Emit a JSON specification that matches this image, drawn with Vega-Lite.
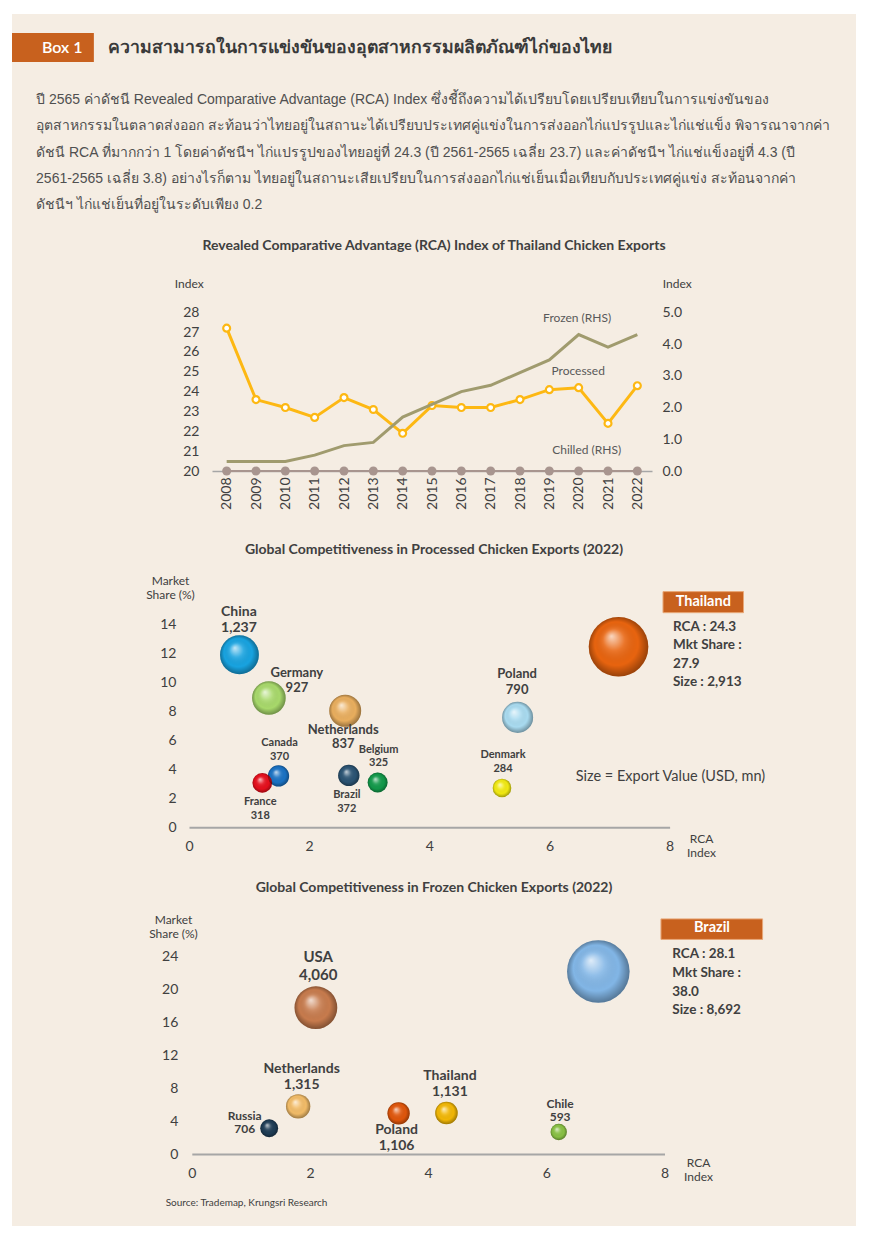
{
  "$schema": "https://vega.github.io/schema/vega-lite/v6.json",
  "background": "#ffffff",
  "padding": {"left": 12, "top": 14, "right": 14, "bottom": 19},
  "spacing": 0,
  "bounds": "flush",
  "resolve": {"scale": {"color": "independent", "size": "independent"}},
  "config": {
    "font": "Lato",
    "view": {"stroke": null, "fill": "#f5ede3"},
    "axis": {"grid": false, "labelFont": "Lato", "titleFont": "Lato"},
    "title": {"font": "Lato", "fontSize": 14, "fontWeight": "bold", "color": "#404040", "anchor": "middle", "frame": "group"}
  },
  "datasets": {
    "header": [
      {"row": -1, "kind": "badge", "text": "Box 1"},
      {"row": -1, "kind": "heading", "text": "ความสามารถในการแข่งขันของอุตสาหกรรมผลิตภัณฑ์ไก่ของไทย"},
      {"row": 1, "kind": "para", "text": "ปี 2565 ค่าดัชนี Revealed Comparative Advantage (RCA) Index ซึ่งชี้ถึงความได้เปรียบโดยเปรียบเทียบในการแข่งขันของ"},
      {"row": 2, "kind": "para", "text": "อุตสาหกรรมในตลาดส่งออก สะท้อนว่าไทยอยู่ในสถานะได้เปรียบประเทศคู่แข่งในการส่งออกไก่แปรรูปและไก่แช่แข็ง พิจารณาจากค่า"},
      {"row": 3, "kind": "para", "text": "ดัชนี RCA ที่มากกว่า 1 โดยค่าดัชนีฯ ไก่แปรรูปของไทยอยู่ที่ 24.3 (ปี 2561-2565 เฉลี่ย 23.7) และค่าดัชนีฯ ไก่แช่แข็งอยู่ที่ 4.3 (ปี"},
      {"row": 4, "kind": "para", "text": "2561-2565 เฉลี่ย 3.8) อย่างไรก็ตาม ไทยอยู่ในสถานะเสียเปรียบในการส่งออกไก่แช่เย็นเมื่อเทียบกับประเทศคู่แข่ง สะท้อนจากค่า"},
      {"row": 5, "kind": "para", "text": "ดัชนีฯ ไก่แช่เย็นที่อยู่ในระดับเพียง 0.2"}
    ],
    "rca": [
      {"year": 2008, "processed": 27.2, "frozen": 0.3, "chilled": 0.0},
      {"year": 2009, "processed": 23.6, "frozen": 0.3, "chilled": 0.0},
      {"year": 2010, "processed": 23.2, "frozen": 0.3, "chilled": 0.0},
      {"year": 2011, "processed": 22.7, "frozen": 0.5, "chilled": 0.0},
      {"year": 2012, "processed": 23.7, "frozen": 0.8, "chilled": 0.0},
      {"year": 2013, "processed": 23.1, "frozen": 0.9, "chilled": 0.0},
      {"year": 2014, "processed": 21.9, "frozen": 1.7, "chilled": 0.0},
      {"year": 2015, "processed": 23.3, "frozen": 2.1, "chilled": 0.0},
      {"year": 2016, "processed": 23.2, "frozen": 2.5, "chilled": 0.0},
      {"year": 2017, "processed": 23.2, "frozen": 2.7, "chilled": 0.0},
      {"year": 2018, "processed": 23.6, "frozen": 3.1, "chilled": 0.0},
      {"year": 2019, "processed": 24.1, "frozen": 3.5, "chilled": 0.0},
      {"year": 2020, "processed": 24.2, "frozen": 4.3, "chilled": 0.0},
      {"year": 2021, "processed": 22.4, "frozen": 3.9, "chilled": 0.0},
      {"year": 2022, "processed": 24.3, "frozen": 4.3, "chilled": 0.0}
    ],
    "proc": [
      {"country": "China", "rca": 0.84, "share": 11.88, "value": 1237},
      {"country": "Germany", "rca": 1.33, "share": 8.9, "value": 927},
      {"country": "Netherlands", "rca": 2.6, "share": 8.02, "value": 837},
      {"country": "Canada", "rca": 1.49, "share": 3.54, "value": 370},
      {"country": "France", "rca": 1.22, "share": 3.06, "value": 318},
      {"country": "Brazil", "rca": 2.66, "share": 3.57, "value": 372},
      {"country": "Belgium", "rca": 3.14, "share": 3.08, "value": 325},
      {"country": "Denmark", "rca": 5.21, "share": 2.71, "value": 284},
      {"country": "Poland", "rca": 5.47, "share": 7.57, "value": 790},
      {"country": "Thailand", "rca": 7.15, "share": 12.43, "value": 2913}
    ],
    "froz": [
      {"country": "USA", "rca": 2.1, "share": 17.8, "value": 4060},
      {"country": "Brazil", "rca": 6.88, "share": 22.2, "value": 8692},
      {"country": "Netherlands", "rca": 1.8, "share": 5.8, "value": 1315},
      {"country": "Russia", "rca": 1.31, "share": 3.13, "value": 706},
      {"country": "Poland", "rca": 3.5, "share": 4.95, "value": 1106},
      {"country": "Thailand", "rca": 4.31, "share": 4.99, "value": 1131},
      {"country": "Chile", "rca": 6.21, "share": 2.68, "value": 593}
    ],
    "procInset": [{"header": "Thailand", "lines": ["RCA : 24.3", "Mkt Share :", "27.9", "Size : 2,913"], "note": "Size = Export Value (USD, mn)"}],
    "frozInset": [{"header": "Brazil", "lines": ["RCA : 28.1", "Mkt Share :", "38.0", "Size : 8,692"], "note": "Source: Trademap, Krungsri Research"}]
  },
  "vconcat": [
    {
      "width": 844,
      "height": 248,
      "data": {"name": "header"},
      "layer": [
        {
          "transform": [{"filter": {"field": "kind", "equal": "badge"}}],
          "mark": {"type": "rect", "color": "#c8611e"},
          "encoding": {
            "x": {"datum": 0, "type": "quantitative", "scale": {"domain": [0, 100], "range": [0, 844], "nice": false, "zero": false}, "axis": null},
            "x2": {"datum": 9.7},
            "y": {"datum": -1.55, "type": "quantitative", "scale": {"domain": [-1, 5], "range": [33.5, 191], "nice": false, "zero": false}, "axis": null},
            "y2": {"datum": -0.45}
          }
        },
        {
          "transform": [{"filter": {"field": "kind", "equal": "badge"}}],
          "mark": {"type": "text", "color": "#ffffff", "fontSize": 16, "fontWeight": 600, "align": "center", "baseline": "middle"},
          "encoding": {
            "x": {"datum": 5.95, "type": "quantitative", "scale": {"domain": [0, 100], "range": [0, 844], "nice": false, "zero": false}, "axis": null},
            "y": {"field": "row", "type": "quantitative", "scale": {"domain": [-1, 5], "range": [33.5, 191], "nice": false, "zero": false}, "axis": null},
            "text": {"field": "text"}
          }
        },
        {
          "transform": [{"filter": {"field": "kind", "equal": "heading"}}],
          "mark": {"type": "text", "color": "#3a3a3a", "fontSize": 17.7, "fontWeight": "bold", "align": "left", "baseline": "middle"},
          "encoding": {
            "x": {"datum": 11.4, "type": "quantitative", "scale": {"domain": [0, 100], "range": [0, 844], "nice": false, "zero": false}, "axis": null},
            "y": {"field": "row", "type": "quantitative", "scale": {"domain": [-1, 5], "range": [33.5, 191], "nice": false, "zero": false}, "axis": null},
            "text": {"field": "text"}
          }
        },
        {
          "transform": [{"filter": {"field": "kind", "equal": "para"}}],
          "mark": {"type": "text", "color": "#505050", "font": "Liberation Sans", "fontSize": 14, "align": "left", "baseline": "middle"},
          "encoding": {
            "x": {"datum": 2.85, "type": "quantitative", "scale": {"domain": [0, 100], "range": [0, 844], "nice": false, "zero": false}, "axis": null},
            "y": {"field": "row", "type": "quantitative", "scale": {"domain": [-1, 5], "range": [33.5, 191], "nice": false, "zero": false}, "axis": null},
            "text": {"field": "text"}
          }
        }
      ]
    },
    {
      "width": 844,
      "height": 303,
      "title": {"text": "Revealed Comparative Advantage (RCA) Index of Thailand Chicken Exports", "offset": 9},
      "data": {"name": "rca"},
      "encoding": {
        "x": {
          "field": "year", "type": "ordinal",
          "scale": {"type": "point", "range": [200, 640], "padding": 0.5},
          "axis": {"orient": "bottom", "offset": -94, "labelAngle": -90, "labelPadding": 6, "ticks": false, "domainColor": "#a6a6a6", "domainWidth": 1.5, "labelFontSize": 14, "labelColor": "#404040", "title": null}
        }
      },
      "resolve": {"scale": {"y": "independent"}},
      "layer": [
        {
          "layer": [
            {
              "mark": {"type": "line", "color": "#fdb813", "strokeWidth": 3},
              "encoding": {
                "y": {"field": "processed", "type": "quantitative",
                  "scale": {"domain": [20, 28], "range": [209, 50.3], "nice": false, "zero": false},
                  "axis": {"orient": "left", "offset": -200, "values": [20, 21, 22, 23, 24, 25, 26, 27, 28], "tickCount": 9, "domain": false, "ticks": false, "labelPadding": 13, "labelOverlap": false, "labelFontSize": 14, "labelColor": "#404040", "title": "Index", "titleAngle": 0, "titleX": -23.2, "titleY": 21.3, "titleAlign": "center", "titleBaseline": "middle", "titleFontSize": 12, "titleFontWeight": "normal", "titleColor": "#404040"}}
              }
            },
            {
              "mark": {"type": "point", "filled": true, "fill": "#ffffff", "stroke": "#fdb813", "strokeWidth": 2.2, "size": 48, "opacity": 1},
              "encoding": {
                "y": {"field": "processed", "type": "quantitative",
                  "scale": {"domain": [20, 28], "range": [209, 50.3], "nice": false, "zero": false},
                  "axis": {"orient": "left", "offset": -200, "values": [20, 21, 22, 23, 24, 25, 26, 27, 28], "tickCount": 9, "domain": false, "ticks": false, "labelPadding": 13, "labelOverlap": false, "labelFontSize": 14, "labelColor": "#404040", "title": "Index", "titleAngle": 0, "titleX": -23.2, "titleY": 21.3, "titleAlign": "center", "titleBaseline": "middle", "titleFontSize": 12, "titleFontWeight": "normal", "titleColor": "#404040"}}
              }
            },
            {
              "data": {"values": [{"label": "Processed"}]},
              "mark": {"type": "text", "fontSize": 12, "color": "#595959", "align": "center", "baseline": "middle", "dx": -0.5},
              "encoding": {
                "x": {"datum": 2020, "type": "ordinal", "scale": {"type": "point", "range": [200, 640], "padding": 0.5},
                  "axis": {"orient": "bottom", "offset": -94, "labelAngle": -90, "labelPadding": 6, "ticks": false, "domainColor": "#a6a6a6", "domainWidth": 1.5, "labelFontSize": 14, "labelColor": "#404040", "title": null}},
                "y": {"datum": 25.06, "type": "quantitative",
                  "scale": {"domain": [20, 28], "range": [209, 50.3], "nice": false, "zero": false},
                  "axis": {"orient": "left", "offset": -200, "values": [20, 21, 22, 23, 24, 25, 26, 27, 28], "tickCount": 9, "domain": false, "ticks": false, "labelPadding": 13, "labelOverlap": false, "labelFontSize": 14, "labelColor": "#404040", "title": "Index", "titleAngle": 0, "titleX": -23.2, "titleY": 21.3, "titleAlign": "center", "titleBaseline": "middle", "titleFontSize": 12, "titleFontWeight": "normal", "titleColor": "#404040"}},
                "text": {"field": "label"}
              }
            }
          ]
        },
        {
          "layer": [
            {
              "mark": {"type": "line", "color": "#a09b6e", "strokeWidth": 3},
              "encoding": {
                "y": {"field": "frozen", "type": "quantitative",
                  "scale": {"domain": [0, 5], "range": [209, 50.3], "nice": false, "zero": false},
                  "axis": {"orient": "right", "offset": -204, "values": [0, 1, 2, 3, 4, 5], "tickCount": 6, "format": ".1f", "domain": false, "ticks": false, "labelPadding": 10, "labelOverlap": false, "labelFontSize": 14, "labelColor": "#404040", "title": "Index", "titleAngle": 0, "titleX": 24.7, "titleY": 21.3, "titleAlign": "center", "titleBaseline": "middle", "titleFontSize": 12, "titleFontWeight": "normal", "titleColor": "#404040"}}
              }
            },
            {
              "mark": {"type": "line", "color": "#a8958f", "strokeWidth": 2.2},
              "encoding": {
                "y": {"field": "chilled", "type": "quantitative",
                  "scale": {"domain": [0, 5], "range": [209, 50.3], "nice": false, "zero": false},
                  "axis": {"orient": "right", "offset": -204, "values": [0, 1, 2, 3, 4, 5], "tickCount": 6, "format": ".1f", "domain": false, "ticks": false, "labelPadding": 10, "labelOverlap": false, "labelFontSize": 14, "labelColor": "#404040", "title": "Index", "titleAngle": 0, "titleX": 24.7, "titleY": 21.3, "titleAlign": "center", "titleBaseline": "middle", "titleFontSize": 12, "titleFontWeight": "normal", "titleColor": "#404040"}}
              }
            },
            {
              "mark": {"type": "point", "filled": true, "color": "#a8958f", "size": 81, "opacity": 1},
              "encoding": {
                "y": {"field": "chilled", "type": "quantitative",
                  "scale": {"domain": [0, 5], "range": [209, 50.3], "nice": false, "zero": false},
                  "axis": {"orient": "right", "offset": -204, "values": [0, 1, 2, 3, 4, 5], "tickCount": 6, "format": ".1f", "domain": false, "ticks": false, "labelPadding": 10, "labelOverlap": false, "labelFontSize": 14, "labelColor": "#404040", "title": "Index", "titleAngle": 0, "titleX": 24.7, "titleY": 21.3, "titleAlign": "center", "titleBaseline": "middle", "titleFontSize": 12, "titleFontWeight": "normal", "titleColor": "#404040"}}
              }
            },
            {
              "data": {"values": [{"label": "Frozen (RHS)"}]},
              "mark": {"type": "text", "fontSize": 12, "color": "#595959", "align": "center", "baseline": "middle", "dx": -1.5},
              "encoding": {
                "x": {"datum": 2020, "type": "ordinal", "scale": {"type": "point", "range": [200, 640], "padding": 0.5},
                  "axis": {"orient": "bottom", "offset": -94, "labelAngle": -90, "labelPadding": 6, "ticks": false, "domainColor": "#a6a6a6", "domainWidth": 1.5, "labelFontSize": 14, "labelColor": "#404040", "title": null}},
                "y": {"datum": 4.83, "type": "quantitative",
                  "scale": {"domain": [0, 5], "range": [209, 50.3], "nice": false, "zero": false},
                  "axis": {"orient": "right", "offset": -204, "values": [0, 1, 2, 3, 4, 5], "tickCount": 6, "format": ".1f", "domain": false, "ticks": false, "labelPadding": 10, "labelOverlap": false, "labelFontSize": 14, "labelColor": "#404040", "title": "Index", "titleAngle": 0, "titleX": 24.7, "titleY": 21.3, "titleAlign": "center", "titleBaseline": "middle", "titleFontSize": 12, "titleFontWeight": "normal", "titleColor": "#404040"}},
                "text": {"field": "label"}
              }
            },
            {
              "data": {"values": [{"label": "Chilled (RHS)"}]},
              "mark": {"type": "text", "fontSize": 12, "color": "#595959", "align": "center", "baseline": "middle", "dx": 8},
              "encoding": {
                "x": {"datum": 2020, "type": "ordinal", "scale": {"type": "point", "range": [200, 640], "padding": 0.5},
                  "axis": {"orient": "bottom", "offset": -94, "labelAngle": -90, "labelPadding": 6, "ticks": false, "domainColor": "#a6a6a6", "domainWidth": 1.5, "labelFontSize": 14, "labelColor": "#404040", "title": null}},
                "y": {"datum": 0.66, "type": "quantitative",
                  "scale": {"domain": [0, 5], "range": [209, 50.3], "nice": false, "zero": false},
                  "axis": {"orient": "right", "offset": -204, "values": [0, 1, 2, 3, 4, 5], "tickCount": 6, "format": ".1f", "domain": false, "ticks": false, "labelPadding": 10, "labelOverlap": false, "labelFontSize": 14, "labelColor": "#404040", "title": "Index", "titleAngle": 0, "titleX": 24.7, "titleY": 21.3, "titleAlign": "center", "titleBaseline": "middle", "titleFontSize": 12, "titleFontWeight": "normal", "titleColor": "#404040"}},
                "text": {"field": "label"}
              }
            }
          ]
        }
      ]
    },
    {
      "width": 844,
      "height": 338,
      "title": {"text": "Global Competitiveness in Processed Chicken Exports (2022)", "offset": 8},
      "resolve": {"scale": {"size": "independent"}},
      "layer": [
        {
          "data": {"name": "procInset"},
          "encoding": {
            "x": {"datum": 7.89, "type": "quantitative",
              "scale": {"domain": [0, 8], "range": [177, 657.6], "nice": false, "zero": false},
              "axis": {"orient": "bottom", "offset": -75.7, "values": [0, 2, 4, 6, 8], "ticks": false, "labelPadding": 12, "labelFontSize": 14, "labelColor": "#404040", "labelFlush": false, "labelOverlap": false, "domainColor": "#a6a6a6", "domainWidth": 2, "title": ["RCA", "Index"], "titleX": 689, "titleY": 10.7, "titleAlign": "center", "titleBaseline": "middle", "titleAngle": 0, "titleFontSize": 12, "titleFontWeight": "normal", "titleColor": "#404040", "titleLineHeight": 14}},
            "y": {"datum": 16.23, "type": "quantitative",
              "scale": {"domain": [0, 14], "range": [262.3, 59], "nice": false, "zero": false},
              "axis": {"orient": "left", "offset": -177, "values": [0, 2, 4, 6, 8, 10, 12, 14], "domain": false, "ticks": false, "labelPadding": 13, "labelOverlap": false, "labelFontSize": 14, "labelColor": "#404040", "title": ["Market", "Share (%)"], "titleX": -19, "titleY": 15, "titleAlign": "center", "titleBaseline": "middle", "titleAngle": 0, "titleFontSize": 12, "titleFontWeight": "normal", "titleColor": "#404040", "titleLineHeight": 14}}
          },
          "layer": [
            {
              "mark": {"type": "rect", "color": "#c8611e", "stroke": "#e8a878", "strokeWidth": 1},
              "encoding": {"x2": {"datum": 9.23}, "y2": {"datum": 14.78}}
            },
            {
              "mark": {"type": "text", "color": "#ffffff", "fontSize": 14.5, "fontWeight": "bold", "align": "center", "baseline": "middle", "dx": 40.3, "dy": 10.5},
              "encoding": {"text": {"field": "header"}}
            },
            {
              "mark": {"type": "text", "color": "#404040", "fontSize": 13.5, "fontWeight": "bold", "align": "left", "baseline": "top", "dx": 10, "dy": 28.5, "lineHeight": 18.3},
              "encoding": {"text": {"field": "lines"}}
            },
            {
              "mark": {"type": "text", "color": "#404040", "fontSize": 14.5, "align": "left", "baseline": "middle", "dx": -87.2, "dy": 185},
              "encoding": {"text": {"field": "note"}}
            }
          ]
        },
        {
          "data": {"name": "proc"},
          "encoding": {
            "x": {"field": "rca", "type": "quantitative",
              "scale": {"domain": [0, 8], "range": [177, 657.6], "nice": false, "zero": false},
              "axis": {"orient": "bottom", "offset": -75.7, "values": [0, 2, 4, 6, 8], "ticks": false, "labelPadding": 12, "labelFontSize": 14, "labelColor": "#404040", "labelFlush": false, "labelOverlap": false, "domainColor": "#a6a6a6", "domainWidth": 2, "title": ["RCA", "Index"], "titleX": 689, "titleY": 10.7, "titleAlign": "center", "titleBaseline": "middle", "titleAngle": 0, "titleFontSize": 12, "titleFontWeight": "normal", "titleColor": "#404040", "titleLineHeight": 14}},
            "y": {"field": "share", "type": "quantitative",
              "scale": {"domain": [0, 14], "range": [262.3, 59], "nice": false, "zero": false},
              "axis": {"orient": "left", "offset": -177, "values": [0, 2, 4, 6, 8, 10, 12, 14], "domain": false, "ticks": false, "labelPadding": 13, "labelOverlap": false, "labelFontSize": 14, "labelColor": "#404040", "title": ["Market", "Share (%)"], "titleX": -19, "titleY": 15, "titleAlign": "center", "titleBaseline": "middle", "titleAngle": 0, "titleFontSize": 12, "titleFontWeight": "normal", "titleColor": "#404040", "titleLineHeight": 14}}
          },
          "layer": [
            {
              "mark": {"type": "point", "filled": true, "opacity": 1, "strokeWidth": 0},
              "encoding": {
                "size": {"field": "value", "type": "quantitative", "scale": {"domain": [0, 3000], "range": [0, 3660]}, "legend": null},
                "color": {"field": "country", "type": "nominal", "legend": null,
                  "scale": {"domain": ["China", "Germany", "Netherlands", "Canada", "France", "Brazil", "Belgium", "Denmark", "Poland", "Thailand"],
                            "range": ["#18a3e0", "#a8d96b", "#e9ae5e", "#1a72c4", "#e60f1c", "#2b5474", "#12994a", "#f2ea12", "#a9dbf0", "#e8640f"]}}
              }
            },
            {
              "mark": {"type": "point", "filled": true, "opacity": 1, "strokeWidth": 0,
                "color": {"gradient": "radial", "x1": 0.38, "y1": 0.32, "r1": 0, "x2": 0.5, "y2": 0.5, "r2": 0.52,
                  "stops": [{"offset": 0, "color": "rgba(255,255,255,0.75)"}, {"offset": 0.35, "color": "rgba(255,255,255,0.12)"}, {"offset": 0.7, "color": "rgba(0,0,0,0)"}, {"offset": 1, "color": "rgba(0,0,0,0.38)"}]}},
              "encoding": {
                "size": {"field": "value", "type": "quantitative", "scale": {"domain": [0, 3000], "range": [0, 3660]}, "legend": null}
              }
            },
            {
              "transform": [{"filter": {"field": "country", "oneOf": ["China", "Poland"]}}],
              "mark": {"type": "text", "fontWeight": "bold", "color": "#404040", "align": "center", "baseline": "middle", "dx": -0.5, "dy": -43},
              "encoding": {"text": {"field": "country"}, "size": {"field": "value", "type": "quantitative", "scale": {"type": "threshold", "domain": [500, 1000], "range": [11, 13, 14]}, "legend": null}}
            },
            {
              "transform": [{"filter": {"field": "country", "oneOf": ["China", "Poland"]}}],
              "mark": {"type": "text", "fontWeight": "bold", "color": "#404040", "align": "center", "baseline": "middle", "dx": -0.5, "dy": -27},
              "encoding": {"text": {"field": "value", "type": "quantitative", "format": ","}, "size": {"field": "value", "type": "quantitative", "scale": {"type": "threshold", "domain": [500, 1000], "range": [11, 13, 14]}, "legend": null}}
            },
            {
              "transform": [{"filter": {"field": "country", "oneOf": ["Germany"]}}],
              "mark": {"type": "text", "fontWeight": "bold", "color": "#404040", "align": "center", "baseline": "middle", "dx": 28, "dy": -25},
              "encoding": {"text": {"field": "country"}, "size": {"field": "value", "type": "quantitative", "scale": {"type": "threshold", "domain": [500, 1000], "range": [11, 13, 14]}, "legend": null}}
            },
            {
              "transform": [{"filter": {"field": "country", "oneOf": ["Germany"]}}],
              "mark": {"type": "text", "fontWeight": "bold", "color": "#404040", "align": "center", "baseline": "middle", "dx": 28, "dy": -10.5},
              "encoding": {"text": {"field": "value", "type": "quantitative", "format": ","}, "size": {"field": "value", "type": "quantitative", "scale": {"type": "threshold", "domain": [500, 1000], "range": [11, 13, 14]}, "legend": null}}
            },
            {
              "transform": [{"filter": {"field": "country", "oneOf": ["Canada", "Belgium", "Denmark"]}}],
              "mark": {"type": "text", "fontWeight": "bold", "color": "#404040", "align": "center", "baseline": "middle", "dx": 1, "dy": -32.7},
              "encoding": {"text": {"field": "country"}, "size": {"field": "value", "type": "quantitative", "scale": {"type": "threshold", "domain": [500, 1000], "range": [11, 13, 14]}, "legend": null}}
            },
            {
              "transform": [{"filter": {"field": "country", "oneOf": ["Canada", "Belgium", "Denmark"]}}],
              "mark": {"type": "text", "fontWeight": "bold", "color": "#404040", "align": "center", "baseline": "middle", "dx": 1, "dy": -19.3},
              "encoding": {"text": {"field": "value", "type": "quantitative", "format": ","}, "size": {"field": "value", "type": "quantitative", "scale": {"type": "threshold", "domain": [500, 1000], "range": [11, 13, 14]}, "legend": null}}
            },
            {
              "transform": [{"filter": {"field": "country", "oneOf": ["Netherlands", "France", "Brazil"]}}],
              "mark": {"type": "text", "fontWeight": "bold", "color": "#404040", "align": "center", "baseline": "middle", "dx": -2, "dy": 19.5},
              "encoding": {"text": {"field": "country"}, "size": {"field": "value", "type": "quantitative", "scale": {"type": "threshold", "domain": [500, 1000], "range": [11, 13, 14]}, "legend": null}}
            },
            {
              "transform": [{"filter": {"field": "country", "oneOf": ["Netherlands", "France", "Brazil"]}}],
              "mark": {"type": "text", "fontWeight": "bold", "color": "#404040", "align": "center", "baseline": "middle", "dx": -2, "dy": 33.5},
              "encoding": {"text": {"field": "value", "type": "quantitative", "format": ","}, "size": {"field": "value", "type": "quantitative", "scale": {"type": "threshold", "domain": [500, 1000], "range": [11, 13, 14]}, "legend": null}}
            }
          ]
        }
      ]
    },
    {
      "width": 844,
      "height": 323,
      "title": {"text": "Global Competitiveness in Frozen Chicken Exports (2022)", "offset": 8},
      "resolve": {"scale": {"size": "independent"}},
      "layer": [
        {
          "data": {"name": "frozInset"},
          "encoding": {
            "x": {"datum": 7.94, "type": "quantitative",
              "scale": {"domain": [0, 8], "range": [179.8, 652.5], "nice": false, "zero": false},
              "axis": {"orient": "bottom", "offset": -72, "values": [0, 2, 4, 6, 8], "ticks": false, "labelPadding": 12, "labelFontSize": 14, "labelColor": "#404040", "labelFlush": false, "labelOverlap": false, "domainColor": "#a6a6a6", "domainWidth": 2, "title": ["RCA", "Index"], "titleX": 686, "titleY": 8.7, "titleAlign": "center", "titleBaseline": "middle", "titleAngle": 0, "titleFontSize": 12, "titleFontWeight": "normal", "titleColor": "#404040", "titleLineHeight": 14}},
            "y": {"datum": 28.6, "type": "quantitative",
              "scale": {"domain": [0, 24], "range": [251, 53.7], "nice": false, "zero": false},
              "axis": {"orient": "left", "offset": -179.8, "values": [0, 4, 8, 12, 16, 20, 24], "domain": false, "ticks": false, "labelPadding": 14, "labelOverlap": false, "labelFontSize": 14, "labelColor": "#404040", "title": ["Market", "Share (%)"], "titleX": -18.8, "titleY": 16, "titleAlign": "center", "titleBaseline": "middle", "titleAngle": 0, "titleFontSize": 12, "titleFontWeight": "normal", "titleColor": "#404040", "titleLineHeight": 14}}
          },
          "layer": [
            {
              "mark": {"type": "rect", "color": "#c8611e", "stroke": "#e8a878", "strokeWidth": 1},
              "encoding": {"x2": {"datum": 9.66}, "y2": {"datum": 26.1}}
            },
            {
              "mark": {"type": "text", "color": "#ffffff", "fontSize": 14.5, "fontWeight": "bold", "align": "center", "baseline": "middle", "dx": 51, "dy": 9.5},
              "encoding": {"text": {"field": "header"}}
            },
            {
              "mark": {"type": "text", "color": "#404040", "fontSize": 13.5, "fontWeight": "bold", "align": "left", "baseline": "top", "dx": 11.3, "dy": 28.5, "lineHeight": 18.7},
              "encoding": {"text": {"field": "lines"}}
            },
            {
              "mark": {"type": "text", "color": "#404040", "fontSize": 10, "align": "left", "baseline": "middle", "dx": -495.3, "dy": 284},
              "encoding": {"text": {"field": "note"}}
            }
          ]
        },
        {
          "data": {"name": "froz"},
          "encoding": {
            "x": {"field": "rca", "type": "quantitative",
              "scale": {"domain": [0, 8], "range": [179.8, 652.5], "nice": false, "zero": false},
              "axis": {"orient": "bottom", "offset": -72, "values": [0, 2, 4, 6, 8], "ticks": false, "labelPadding": 12, "labelFontSize": 14, "labelColor": "#404040", "labelFlush": false, "labelOverlap": false, "domainColor": "#a6a6a6", "domainWidth": 2, "title": ["RCA", "Index"], "titleX": 686, "titleY": 8.7, "titleAlign": "center", "titleBaseline": "middle", "titleAngle": 0, "titleFontSize": 12, "titleFontWeight": "normal", "titleColor": "#404040", "titleLineHeight": 14}},
            "y": {"field": "share", "type": "quantitative",
              "scale": {"domain": [0, 24], "range": [251, 53.7], "nice": false, "zero": false},
              "axis": {"orient": "left", "offset": -179.8, "values": [0, 4, 8, 12, 16, 20, 24], "domain": false, "ticks": false, "labelPadding": 14, "labelOverlap": false, "labelFontSize": 14, "labelColor": "#404040", "title": ["Market", "Share (%)"], "titleX": -18.8, "titleY": 16, "titleAlign": "center", "titleBaseline": "middle", "titleAngle": 0, "titleFontSize": 12, "titleFontWeight": "normal", "titleColor": "#404040", "titleLineHeight": 14}}
          },
          "layer": [
            {
              "mark": {"type": "point", "filled": true, "opacity": 1, "strokeWidth": 0},
              "encoding": {
                "size": {"field": "value", "type": "quantitative", "scale": {"domain": [0, 9000], "range": [0, 4050]}, "legend": null},
                "color": {"field": "country", "type": "nominal", "legend": null,
                  "scale": {"domain": ["USA", "Brazil", "Netherlands", "Russia", "Poland", "Thailand", "Chile"],
                            "range": ["#c77b4d", "#82b6e6", "#f2bc68", "#1e3c55", "#e0560b", "#f2b705", "#88c043"]}}
              }
            },
            {
              "mark": {"type": "point", "filled": true, "opacity": 1, "strokeWidth": 0,
                "color": {"gradient": "radial", "x1": 0.38, "y1": 0.32, "r1": 0, "x2": 0.5, "y2": 0.5, "r2": 0.52,
                  "stops": [{"offset": 0, "color": "rgba(255,255,255,0.75)"}, {"offset": 0.35, "color": "rgba(255,255,255,0.12)"}, {"offset": 0.7, "color": "rgba(0,0,0,0)"}, {"offset": 1, "color": "rgba(0,0,0,0.38)"}]}},
              "encoding": {
                "size": {"field": "value", "type": "quantitative", "scale": {"domain": [0, 9000], "range": [0, 4050]}, "legend": null}
              }
            },
            {
              "transform": [{"filter": {"field": "country", "oneOf": ["USA"]}}],
              "mark": {"type": "text", "fontWeight": "bold", "color": "#404040", "align": "center", "baseline": "middle", "dx": 2.3, "dy": -50.5},
              "encoding": {"text": {"field": "country"}, "size": {"field": "value", "type": "quantitative", "scale": {"type": "threshold", "domain": [1000, 3000], "range": [12, 14, 15]}, "legend": null}}
            },
            {
              "transform": [{"filter": {"field": "country", "oneOf": ["USA"]}}],
              "mark": {"type": "text", "fontWeight": "bold", "color": "#404040", "align": "center", "baseline": "middle", "dx": 2.3, "dy": -32.8},
              "encoding": {"text": {"field": "value", "type": "quantitative", "format": ","}, "size": {"field": "value", "type": "quantitative", "scale": {"type": "threshold", "domain": [1000, 3000], "range": [12, 14, 15]}, "legend": null}}
            },
            {
              "transform": [{"filter": {"field": "country", "oneOf": ["Netherlands", "Thailand"]}}],
              "mark": {"type": "text", "fontWeight": "bold", "color": "#404040", "align": "center", "baseline": "middle", "dx": 3.5, "dy": -37.2},
              "encoding": {"text": {"field": "country"}, "size": {"field": "value", "type": "quantitative", "scale": {"type": "threshold", "domain": [1000, 3000], "range": [12, 14, 15]}, "legend": null}}
            },
            {
              "transform": [{"filter": {"field": "country", "oneOf": ["Netherlands", "Thailand"]}}],
              "mark": {"type": "text", "fontWeight": "bold", "color": "#404040", "align": "center", "baseline": "middle", "dx": 3.5, "dy": -21.2},
              "encoding": {"text": {"field": "value", "type": "quantitative", "format": ","}, "size": {"field": "value", "type": "quantitative", "scale": {"type": "threshold", "domain": [1000, 3000], "range": [12, 14, 15]}, "legend": null}}
            },
            {
              "transform": [{"filter": {"field": "country", "oneOf": ["Chile"]}}],
              "mark": {"type": "text", "fontWeight": "bold", "color": "#404040", "align": "center", "baseline": "middle", "dx": 1.4, "dy": -28.3},
              "encoding": {"text": {"field": "country"}, "size": {"field": "value", "type": "quantitative", "scale": {"type": "threshold", "domain": [1000, 3000], "range": [12, 14, 15]}, "legend": null}}
            },
            {
              "transform": [{"filter": {"field": "country", "oneOf": ["Chile"]}}],
              "mark": {"type": "text", "fontWeight": "bold", "color": "#404040", "align": "center", "baseline": "middle", "dx": 1.4, "dy": -14.7},
              "encoding": {"text": {"field": "value", "type": "quantitative", "format": ","}, "size": {"field": "value", "type": "quantitative", "scale": {"type": "threshold", "domain": [1000, 3000], "range": [12, 14, 15]}, "legend": null}}
            },
            {
              "transform": [{"filter": {"field": "country", "oneOf": ["Poland"]}}],
              "mark": {"type": "text", "fontWeight": "bold", "color": "#404040", "align": "center", "baseline": "middle", "dx": -2, "dy": 17},
              "encoding": {"text": {"field": "country"}, "size": {"field": "value", "type": "quantitative", "scale": {"type": "threshold", "domain": [1000, 3000], "range": [12, 14, 15]}, "legend": null}}
            },
            {
              "transform": [{"filter": {"field": "country", "oneOf": ["Poland"]}}],
              "mark": {"type": "text", "fontWeight": "bold", "color": "#404040", "align": "center", "baseline": "middle", "dx": -2, "dy": 32.8},
              "encoding": {"text": {"field": "value", "type": "quantitative", "format": ","}, "size": {"field": "value", "type": "quantitative", "scale": {"type": "threshold", "domain": [1000, 3000], "range": [12, 14, 15]}, "legend": null}}
            },
            {
              "transform": [{"filter": {"field": "country", "oneOf": ["Russia"]}}],
              "mark": {"type": "text", "fontWeight": "bold", "color": "#404040", "align": "center", "baseline": "middle", "dx": -24.5, "dy": -12.3},
              "encoding": {"text": {"field": "country"}, "size": {"field": "value", "type": "quantitative", "scale": {"type": "threshold", "domain": [1000, 3000], "range": [12, 14, 15]}, "legend": null}}
            },
            {
              "transform": [{"filter": {"field": "country", "oneOf": ["Russia"]}}],
              "mark": {"type": "text", "fontWeight": "bold", "color": "#404040", "align": "center", "baseline": "middle", "dx": -24.5, "dy": 0.9},
              "encoding": {"text": {"field": "value", "type": "quantitative", "format": ","}, "size": {"field": "value", "type": "quantitative", "scale": {"type": "threshold", "domain": [1000, 3000], "range": [12, 14, 15]}, "legend": null}}
            }
          ]
        }
      ]
    }
  ]
}
